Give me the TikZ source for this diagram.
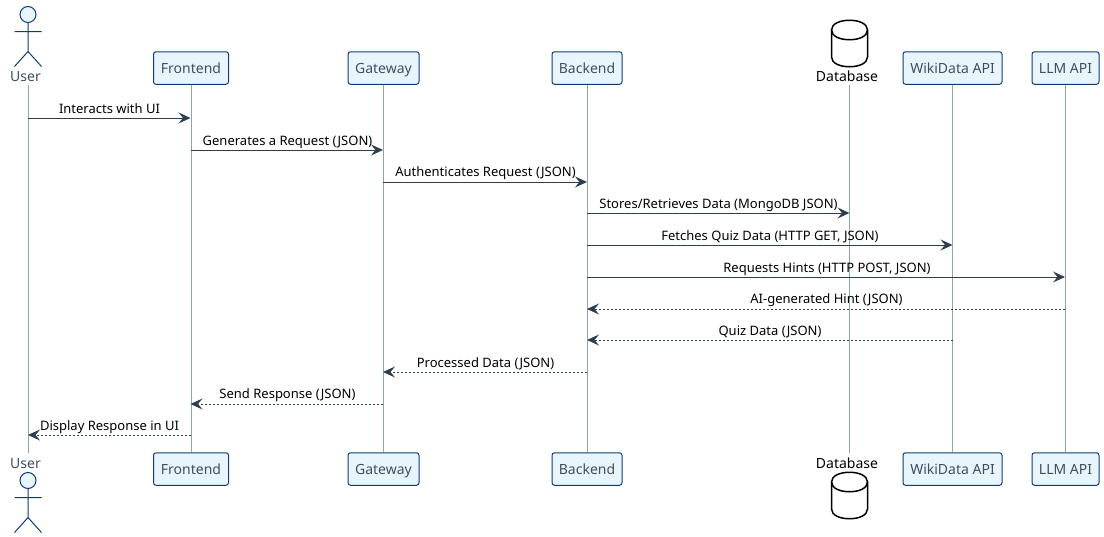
\documentclass[tikz,border=0pt]{standalone}
\usepackage{fontspec}
\setmainfont{Noto Sans}
\usetikzlibrary{arrows.meta}
\definecolor{boxfill}{HTML}{E8F5FD}
\definecolor{boxline}{HTML}{0F3A78}
\definecolor{lifecol}{HTML}{8FA3A8}
\definecolor{msgcol}{HTML}{2C3E50}
\definecolor{parttext}{HTML}{3E4F60}
\tikzset{
  x=1pt,y=-1pt,
  partbox/.style={draw=boxline,fill=boxfill,line width=1pt,rounded corners=2.5pt,minimum height=32.5pt,inner xsep=0pt,inner ysep=0pt,text height=13pt,text depth=3pt,text=parttext,font=\fontsize{14}{16}\selectfont,anchor=center},
  partlabel/.style={text=parttext,font=\fontsize{14}{16}\selectfont,inner sep=0pt,anchor=base},
  dblabel/.style={text=black,font=\fontsize{14}{16}\selectfont,inner sep=0pt,anchor=base},
  lifeline/.style={draw=lifecol,line width=1pt},
  msg/.style={draw=msgcol,line width=1pt,-{Stealth[length=12pt,width=11pt,inset=4.5pt,fill=msgcol]}},
  reply/.style={msg,dash pattern=on 2pt off 2pt},
  msglabel/.style={text=black,font=\fontsize{13}{15}\selectfont,inner sep=0pt,anchor=base},
  actorline/.style={draw=boxline,line width=1pt},
  dbline/.style={draw=black,line width=1.5pt,fill=white},
}
\newcommand{\stick}[2]{%
  \draw[actorline,fill=boxfill] (#1,#2) circle (8pt);
  \draw[actorline] (#1,#2+8) -- (#1,#2+37) (#1-13.5,#2+17) -- (#1+13.5,#2+17)
    (#1-13.5,#2+52) -- (#1,#2+37) -- (#1+13.5,#2+52);
}
\newcommand{\dbcan}[2]{%
  \draw[dbline] (#1-18,#2+10) .. controls (#1-18,#2-3) and (#1+18,#2-3) .. (#1+18,#2+10)
    -- (#1+18,#2+37) .. controls (#1+18,#2+50) and (#1-18,#2+50) .. (#1-18,#2+37) -- cycle;
  \draw[dbline,fill=none] (#1-18,#2+10) .. controls (#1-18,#2+23) and (#1+18,#2+23) .. (#1+18,#2+10);
}
\begin{document}
\begin{tikzpicture}
\useasboundingbox (0,0) rectangle (1104,536);
% lifelines
\coordinate (uT) at (28,85);   \coordinate (uB) at (28,453);
\coordinate (dT) at (849.5,85); \coordinate (dB) at (849.5,453);
\node[partbox,minimum width=75pt] (feT) at (191,68) {Frontend};
\node[partbox,minimum width=71pt] (gwT) at (383.5,68) {Gateway};
\node[partbox,minimum width=70pt] (beT) at (587,68) {Backend};
\node[partbox,minimum width=99pt] (wdT) at (952.5,68) {WikiData API};
\node[partbox,minimum width=67pt] (llT) at (1065.5,68) {LLM API};
\node[partbox,minimum width=75pt] (feB) at (191,469) {Frontend};
\node[partbox,minimum width=71pt] (gwB) at (383.5,469) {Gateway};
\node[partbox,minimum width=70pt] (beB) at (587,469) {Backend};
\node[partbox,minimum width=99pt] (wdB) at (952.5,469) {WikiData API};
\node[partbox,minimum width=67pt] (llB) at (1065.5,469) {LLM API};
\draw[lifeline] (uT) -- (uB);
\draw[lifeline] (dT) -- (dB);
\foreach \p in {fe,gw,be,wd,ll}{\draw[lifeline] (\p T.south) -- (\p B.north);}
% actors and database
\stick{28}{14.5}
\node[partlabel] (uLT) at (25.5,81) {User};
\node[partlabel] (uLB) at (25.5,468) {User};
\stick{28}{480.5}
\dbcan{849.5}{20}
\node[dblabel] (dLT) at (847,81) {Database};
\node[dblabel] (dLB) at (847,468) {Database};
\dbcan{849.5}{472}
% message ends
\coordinate (a1) at (28,118);    \coordinate (b1) at (190.5,118);
\coordinate (a2) at (190.5,150); \coordinate (b2) at (383,150);
\coordinate (a3) at (383,182);   \coordinate (b3) at (587,182);
\coordinate (a4) at (587,213);   \coordinate (b4) at (849.5,213);
\coordinate (a5) at (587,245);   \coordinate (b5) at (952.5,245);
\coordinate (a6) at (587,277);   \coordinate (b6) at (1065,277);
\coordinate (a7) at (1065,309);  \coordinate (b7) at (587,309);
\coordinate (a8) at (952.5,340); \coordinate (b8) at (587,340);
\coordinate (a9) at (587,372);   \coordinate (b9) at (383,372);
\coordinate (a10) at (383,404);  \coordinate (b10) at (190.5,404);
\coordinate (a11) at (190.5,435);\coordinate (b11) at (28,435);
\foreach \i in {1,...,6}{\draw[msg] (a\i) -- (b\i);}
\foreach \i in {7,...,11}{\draw[reply] (a\i) -- (b\i);}
% message labels
\node[msglabel] (l1) at (109.5,113) {Interacts with UI};
\node[msglabel] (l2) at (287.5,145) {Generates a Request (JSON)};
\node[msglabel] (l3) at (485.5,176.5) {Authenticates Request (JSON)};
\node[msglabel] (l4) at (718.5,208) {Stores/Retrieves Data (MongoDB JSON)};
\node[msglabel] (l5) at (770,240) {Fetches Quiz Data (HTTP GET, JSON)};
\node[msglabel] (l6) at (827,272) {Requests Hints (HTTP POST, JSON)};
\node[msglabel] (l7) at (826.5,303.5) {AI-generated Hint (JSON)};
\node[msglabel] (l8) at (770,335) {Quiz Data (JSON)};
\node[msglabel] (l9) at (485.5,367) {Processed Data (JSON)};
\node[msglabel] (l10) at (287.5,398.5) {Send Response (JSON)};
\node[msglabel] (l11) at (109.5,430) {Display Response in UI};
\end{tikzpicture}
\end{document}
